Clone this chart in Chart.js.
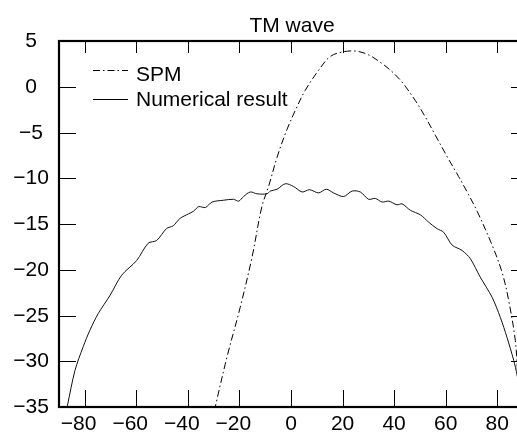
<!DOCTYPE html>
<html>
<head>
<meta charset="utf-8">
<script src="https://cdn.jsdelivr.net/npm/chart.js@4.4.1/dist/chart.umd.min.js"></script>
<style>
  html, body { margin: 0; padding: 0; background: #fff; overflow: hidden; }
  #wrap { width: 517px; height: 433px; overflow: hidden; }
  canvas { display: block; }
</style>
</head>
<body>
<div id="wrap"><canvas id="grafico" width="540" height="433" style="width:540px;height:433px"></canvas></div>
<script>
// Dados (angulo em graus, nivel em dB)
const spmAngle = [-31, -29.4, -24.8, -19.7, -15.1, -11.3, -8.7, -5.4, -1.6, 2.3, 5.5, 10.7, 15.2, 20, 25, 30, 35, 39, 43.1, 48.2, 52.1, 56, 60.5, 65, 68.9, 72.2, 78, 81.9, 84.4, 87, 87.9, 89];
const spmValue = [-37, -35, -29.5, -24.1, -18.6, -13.1, -10.9, -7.7, -4.7, -2.2, -0.4, 1.8, 3.3, 3.8, 3.9, 3.5, 2.6, 1.7, 0.5, -1.5, -3.3, -5.3, -7.6, -9.8, -11.8, -13.6, -17.3, -20.3, -23.3, -27.7, -31.3, -37];

const numAngle = [-88, -86.7, -83.8, -80.6, -78, -74.8, -70.2, -65.7, -59.9, -55.4, -52.1, -48.3, -45.7, -43.1, -39.8, -37.8, -35.8, -33.2, -30.6, -26.1, -22.3, -20.3, -18.4, -15.8, -13.2, -9.3, -8, -5.4, -2.2, 1, 4.3, 7.2, 10.7, 13.7, 16.5, 20.4, 23.7, 26.9, 30.1, 32.7, 35.3, 37.9, 41.1, 43.1, 46.3, 50.2, 53.4, 56.6, 59.2, 62.5, 66.4, 69.6, 73.4, 78, 81.2, 83.8, 86.4, 87.7, 90];
const numValue = [-36.5, -34.8, -31, -28.4, -26.6, -24.8, -22.8, -20.6, -19, -17.1, -16.8, -15.5, -15.2, -14.4, -13.9, -13.6, -13.1, -13.2, -12.6, -12.4, -12.3, -12.5, -12, -11.5, -11.7, -11.7, -11.4, -11.2, -10.6, -10.9, -11.5, -11.25, -11.6, -11.2, -11.6, -12, -11.4, -11.5, -12.3, -12.2, -12.6, -12.5, -12.9, -12.8, -13.5, -14, -14.8, -15.5, -15.9, -17.3, -17.9, -18.8, -20.8, -23, -25.2, -27.4, -29.9, -31.5, -35];

const xTicks = [-80, -60, -40, -20, 0, 20, 40, 60, 80];
const yTicks = [5, 0, -5, -10, -15, -20, -25, -30, -35];
const chartTitle = 'TM wave';
const legendLabels = ['SPM', 'Numerical result'];

const fonte = '21px "Liberation Sans", Arial, Helvetica, sans-serif';

function rotulo(v) {
  return v < 0 ? '\u2212' + Math.abs(v) : String(v);
}

function pares(xs, ys) {
  return xs.map((x, i) => ({ x: x, y: ys[i] }));
}

// Moldura, marcas internas, rotulos, titulo e legenda
const moldura = {
  id: 'moldura',
  afterDraw(chart) {
    const ctx = chart.ctx;
    const a = chart.chartArea;
    const sx = chart.scales.x;
    const sy = chart.scales.y;
    ctx.save();
    ctx.strokeStyle = '#000';
    ctx.fillStyle = '#000';

    // marcas
    ctx.lineWidth = 1;
    ctx.beginPath();
    xTicks.forEach(v => {
      const px = Math.round(sx.getPixelForValue(v)) + 0.5;
      ctx.moveTo(px, a.bottom); ctx.lineTo(px, a.bottom - 17);
      ctx.moveTo(px, a.top); ctx.lineTo(px, a.top + 12);
    });
    yTicks.forEach(v => {
      const py = Math.round(sy.getPixelForValue(v)) + 0.5;
      ctx.moveTo(a.left, py); ctx.lineTo(a.left + 17, py);
      ctx.moveTo(a.right, py); ctx.lineTo(a.right - 12, py);
    });
    ctx.stroke();

    // borda
    ctx.lineWidth = 2.2;
    ctx.strokeRect(a.left, a.top, a.right - a.left, a.bottom - a.top);

    ctx.font = fonte;
    ctx.textBaseline = 'alphabetic';

    // rotulos do eixo x: digitos centrados na marca
    xTicks.forEach(v => {
      const px = sx.getPixelForValue(v);
      const digitos = String(Math.abs(v));
      const w = ctx.measureText(digitos).width;
      ctx.textAlign = 'right';
      ctx.fillText(rotulo(v), px + w / 2, a.bottom + 23);
    });

    // rotulos do eixo y: centrados
    yTicks.forEach(v => {
      const py = sy.getPixelForValue(v);
      ctx.textAlign = 'center';
      ctx.fillText(rotulo(v), 31, py + 6);
    });

    // titulo
    ctx.textAlign = 'center';
    ctx.fillText(chartTitle, 292, 31.5);

    // legenda
    ctx.textAlign = 'left';
    ctx.lineWidth = 1;
    ctx.setLineDash([7, 3, 1.5, 3]);
    ctx.beginPath(); ctx.moveTo(93, 70.5); ctx.lineTo(128, 70.5); ctx.stroke();
    ctx.setLineDash([]);
    ctx.beginPath(); ctx.moveTo(93, 99.5); ctx.lineTo(128, 99.5); ctx.stroke();
    ctx.fillText(legendLabels[0], 136, 80.5);
    ctx.fillText(legendLabels[1], 136, 106);
    ctx.restore();
  }
};

const ctx = document.getElementById('grafico').getContext('2d');
window.grafico = new Chart(ctx, {
  type: 'line',
  data: {
    datasets: [{
      label: legendLabels[0],
      data: pares(spmAngle, spmValue),
      borderColor: '#000',
      borderWidth: 1,
      borderDash: [7, 3, 1.5, 3],
      pointRadius: 0,
      tension: 0.35,
      fill: false
    }, {
      label: legendLabels[1],
      data: pares(numAngle, numValue),
      borderColor: '#111',
      borderWidth: 1,
      pointRadius: 0,
      tension: 0.3,
      fill: false
    }]
  },
  options: {
    responsive: false,
    animation: false,
    events: [],
    layout: { padding: { left: 59, top: 41, right: 17, bottom: 26 } },
    plugins: {
      legend: { display: false },
      title: { display: false },
      tooltip: { enabled: false }
    },
    scales: {
      x: { type: 'linear', min: -90, max: 90, display: false },
      y: { type: 'linear', min: -35, max: 5, display: false }
    }
  },
  plugins: [moldura]
});
</script>
</body>
</html>
